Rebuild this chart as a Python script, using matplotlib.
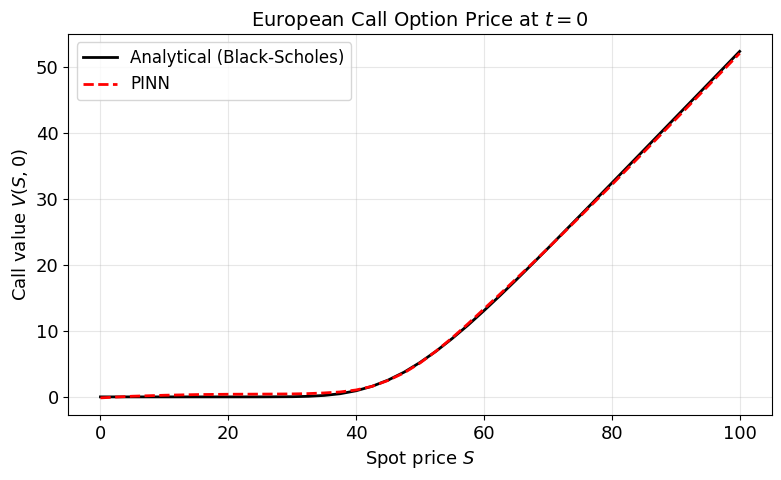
import matplotlib
matplotlib.use('Agg')
import matplotlib.pyplot as plt
import numpy as np

# spot prices and values
spot = [0, 5, 10, 15, 20, 25, 30, 32.5, 35, 37.5, 40, 42.5, 45, 47.5, 50, 52.5,
        55, 57.5, 60, 62.5, 65, 67.5, 70, 75, 80, 85, 90, 95, 100]
analytical = [0, 0, 0, 0, 0, 0.002, 0.027, 0.085, 0.22, 0.48, 0.93, 1.61, 2.55, 3.75,
              5.23, 6.93, 8.84, 10.89, 13.09, 15.37, 17.72, 20.12, 22.55, 27.49,
              32.46, 37.45, 42.45, 47.44, 52.44]
pinn = [-0.15, 0.1, 0.25, 0.35, 0.4, 0.42, 0.45, 0.5, 0.6, 0.75, 1.05, 1.6, 2.5, 3.65,
        5.15, 6.95, 8.95, 11.1, 13.35, 15.6, 17.9, 20.2, 22.55, 27.35,
        32.2, 37.15, 42.15, 47.15, 52.15]

plt.rcParams['font.size'] = 13
fig, ax = plt.subplots(figsize=(7.81, 4.8), dpi=100)
ax.plot(spot, analytical, color='black', lw=2, label='Analytical (Black-Scholes)')
ax.plot(spot, pinn, color='red', lw=2, ls='--', label='PINN')
ax.set_xlabel('Spot price $S$')
ax.set_ylabel('Call value $V(S,0)$')
ax.set_title('European Call Option Price at $t=0$', fontsize=14)
ax.grid(True, alpha=0.3)
ax.legend(loc='upper left', fontsize=12)
fig.subplots_adjust(left=0.0877, right=0.988, top=0.929, bottom=0.135)
fig.savefig('out.png', dpi=100)
